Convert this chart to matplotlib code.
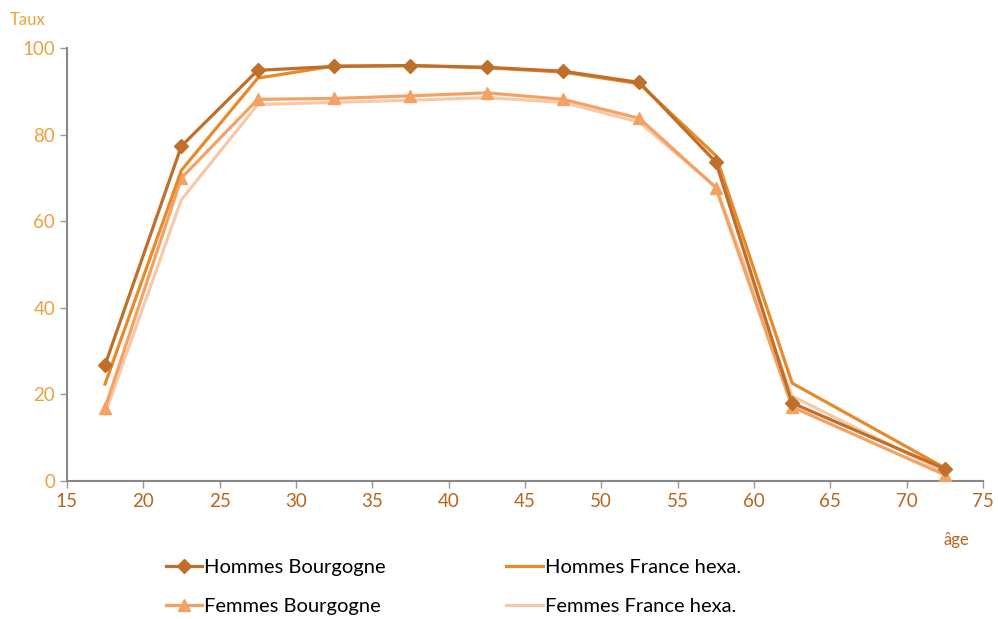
import matplotlib.pyplot as plt

# age classes (centres) and activity rates
ages = [17.5, 22.5, 27.5, 32.5, 37.5, 42.5, 47.5, 52.5, 57.5, 62.5, 72.5]
hommes_bourgogne = [26.8, 77.4, 94.9, 95.8, 96.0, 95.6, 94.7, 92.1, 73.7, 18.0, 2.8]
hommes_france = [22.4, 71.8, 93.1, 95.9, 96.0, 95.5, 94.5, 91.8, 75.2, 22.6, 3.0]
femmes_bourgogne = [16.9, 70.0, 88.2, 88.4, 89.0, 89.7, 88.2, 83.8, 67.8, 17.1, 1.4]
femmes_france = [15.5, 65.0, 87.0, 87.5, 88.0, 88.6, 87.5, 82.9, 68.0, 19.6, 2.0]

xticks = list(range(15, 80, 5))
yticks = [0, 20, 40, 60, 80, 100]

plt.rcParams['font.family'] = ['Lato', 'DejaVu Sans']

fig = plt.figure(figsize=(9.98, 6.19), dpi=100)
ax = fig.add_axes([0.067, 0.223, 0.918, 0.699])

l1, = ax.plot(ages, hommes_bourgogne, color='#BF6F2A', lw=2.3, marker='D', ms=7,
              label='Hommes Bourgogne', zorder=5)
l2, = ax.plot(ages, hommes_france, color='#E8892A', lw=2.3, label='Hommes France hexa.', zorder=4)
l3, = ax.plot(ages, femmes_bourgogne, color='#F4A263', lw=2.3, marker='^', ms=9,
              label='Femmes Bourgogne', zorder=3)
l4, = ax.plot(ages, femmes_france, color='#F8C9A8', lw=2.3, label='Femmes France hexa.', zorder=2)

ax.set_xlim(15, 75)
ax.set_ylim(0, 100)
ax.set_xticks(xticks)
ax.set_yticks(yticks)
for s in ['top', 'right']:
    ax.spines[s].set_visible(False)
for s in ['left', 'bottom']:
    ax.spines[s].set_color('#888888')
    ax.spines[s].set_linewidth(1.5)
ax.tick_params(axis='both', colors='#999999', length=5, width=1, labelsize=13.5)
ax.tick_params(axis='y', labelcolor='#F0A040')
ax.tick_params(axis='x', labelcolor='#B8651E')

fig.text(0.010, 0.968, 'Taux', color='#F0A040', fontsize=12, va='center')
fig.text(0.945, 0.127, 'âge', color='#B8651E', fontsize=12, va='center')

# column-wise fill: hommes on first row, femmes on second
ax.legend([l1, l3, l2, l4], [l.get_label() for l in [l1, l3, l2, l4]],
          loc='upper left', bbox_to_anchor=(0.088, -0.138), ncol=2, frameon=False,
          fontsize=14.5, handlelength=1.8, handletextpad=0.1, columnspacing=6.0,
          labelspacing=1.1)

fig.savefig('out.png', dpi=100)
